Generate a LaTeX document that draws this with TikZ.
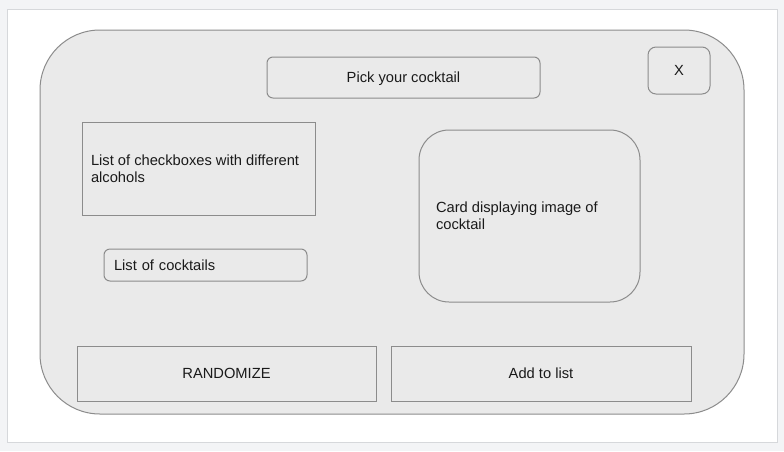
\documentclass[tikz,border=0pt]{standalone}
\usepackage{fontspec}
\setmainfont{Liberation Sans}
\definecolor{bgc}{HTML}{F3F4F6}
\definecolor{pagebd}{HTML}{D6D8DB}
\definecolor{boxfill}{HTML}{EAEAEA}
\definecolor{boxline}{HTML}{8C8C8C}
\definecolor{txt}{HTML}{1A1A1A}
\newcommand{\mynohyph}{\hyphenpenalty=10000\relax\exhyphenpenalty=10000\relax}
\newcommand{\myblock}[2]{\raisebox{-1pt}{\parbox{#1}{\raggedright#2}}}
\begin{document}
\begin{tikzpicture}[x=1pt,y=-1pt,
  box/.style={draw=boxline,fill=boxfill,line width=1pt,inner sep=0pt,text=txt,font=\fontsize{14.7}{17}\selectfont\mynohyph},
  oneline/.style={text height=13.4pt,text depth=2.8pt},
  rbox/.style={box,rounded corners=6pt}]
\fill[bgc] (0,0) rectangle (784,451);
\useasboundingbox (0,0) rectangle (784,451);
\draw[pagebd,fill=white,line width=1pt] (7,9) rectangle (777,442);
\node[box,rounded corners=60pt,minimum width=704pt,minimum height=384pt] (frame) at (392,222) {};
\node[rbox,oneline,minimum width=273pt,minimum height=41pt] (title) at (403.5,77.5) {Pick your cocktail};
\node[rbox,oneline,rounded corners=8pt,minimum width=62pt,minimum height=47pt] (close) at (679,70.5) {X};
\node[box,minimum width=233pt,minimum height=93pt] (checks) at (198.5,168.5) {\myblock{215pt}{List of checkboxes with different alcohols}};
\node[rbox,oneline,minimum width=203pt,minimum height=32pt,text width=183pt,align=left] (list) at (205.5,265) {List of cocktails};
\node[box,rounded corners=30pt,minimum width=221pt,minimum height=172pt] (card) at (529.5,216) {\myblock{187pt}{Card displaying image of cocktail}};
\node[box,oneline,minimum width=299pt,minimum height=55pt] (rand) at (226.5,373.5) {RANDOMIZE};
\node[box,oneline,minimum width=300pt,minimum height=55pt] (add) at (541,373.5) {Add to list};
\end{tikzpicture}
\end{document}
